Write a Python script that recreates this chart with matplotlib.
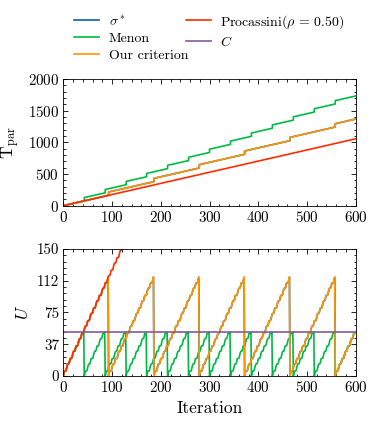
import numpy as np
import matplotlib.pyplot as plt
from matplotlib.ticker import AutoMinorLocator, FixedLocator, FixedFormatter

plt.rcParams['font.family'] = 'cmr10'
plt.rcParams['mathtext.fontset'] = 'cm'
plt.rcParams['axes.formatter.use_mathtext'] = True
plt.rcParams['font.size'] = 10.8
plt.rcParams['axes.labelsize'] = 12.5
plt.rcParams['axes.linewidth'] = 0.6
plt.rcParams['lines.linewidth'] = 1.2

colors = ['#0C5DA5', '#00B945', '#FF9500', '#FF2C00', '#845B97']
labels = [r'$\sigma^*$', 'Menon', 'Our criterion', r'Procassini($\rho\,=\,0.50$)', r'$C$']

n_iter = 600
C = 52  # load balancing cost / threshold

# iterations where load balancing is triggered
menon_resets = [43, 86, 129, 171, 214, 257, 300, 343, 386, 429, 472, 515, 558]
ours_resets = [93, 186, 279, 372, 465, 558]
sigma_resets = [93, 186, 279, 372, 465, 558]
procassini_resets = []

# imbalance added per iteration after a rebalance (one wiggle cycle, repeats)
u_step = [3.0, 2.4, 0.4, 0.0, 0.1, 1.4, 2.6, 2.5, 1.5, 0.5, 0.0, 0.5]

# parallel time, vertices (iteration, T_par)
procassini_it = [0, 600]
procassini_t = [0, 1056]
menon_it = [0, 43, 43, 86, 86, 129, 129, 171, 171, 214, 214, 257, 257, 300, 300,
            343, 343, 386, 386, 429, 429, 472, 472, 515, 515, 558, 558, 600]
menon_t = [0, 76, 128, 203, 255, 331, 383, 457, 509, 585, 637, 712, 764, 840, 892,
           968, 1020, 1095, 1147, 1223, 1275, 1351, 1403, 1478, 1530, 1606, 1658, 1732]
ours_it = [0, 93, 93, 186, 186, 279, 279, 372, 372, 465, 465, 558, 558, 600]
ours_t = [0, 164, 216, 379, 431, 595, 647, 811, 863, 1026, 1078, 1242, 1294, 1368]


def cumulative_imbalance(resets):
    u = np.zeros(n_iter + 1)
    last = 0
    for i in range(1, n_iter + 1):
        if i in resets:
            last = i
            u[i] = 0
        else:
            u[i] = u[i - 1] + u_step[(i - last - 1) % len(u_step)]
    return u


it = np.arange(n_iter + 1)

fig = plt.figure(figsize=(3.73, 4.22), dpi=100)
ax1 = fig.add_axes([0.1697, 0.5126, 0.784, 0.3002])
ax2 = fig.add_axes([0.1697, 0.109, 0.784, 0.301])

# top: parallel time
ax1.plot(ours_it, ours_t, color=colors[0], label=labels[0])
ax1.plot(menon_it, menon_t, color=colors[1], label=labels[1])
ax1.plot(ours_it, ours_t, color=colors[2], label=labels[2])
ax1.plot(procassini_it, procassini_t, color=colors[3], label=labels[3])
ax1.plot([], [], color=colors[4], label=labels[4])
ax1.set_xlim(0, 600)
ax1.set_ylim(0, 2000)
ax1.set_yticks([0, 500, 1000, 1500, 2000])
ax1.set_ylabel(r'$\mathrm{T}_{\mathrm{par}}$')

# bottom: cumulative imbalance
ax2.plot(it, cumulative_imbalance(sigma_resets), color=colors[0])
ax2.plot(it, cumulative_imbalance(menon_resets), color=colors[1])
ax2.plot(it, cumulative_imbalance(ours_resets), color=colors[2])
ax2.plot(it, cumulative_imbalance(procassini_resets), color=colors[3])
ax2.axhline(C, color=colors[4])
ax2.set_xlim(0, 600)
ax2.set_ylim(0, 150)
u_ticks = [0, 37.5, 75, 112.5, 150]
ax2.yaxis.set_major_locator(FixedLocator(u_ticks))
ax2.yaxis.set_major_formatter(FixedFormatter([str(int(t)) for t in u_ticks]))
ax2.set_ylabel(r'$U$')
ax2.set_xlabel('Iteration')

for ax in (ax1, ax2):
    ax.set_xticks([0, 100, 200, 300, 400, 500, 600])
    ax.xaxis.set_minor_locator(AutoMinorLocator(5))
    ax.yaxis.set_minor_locator(AutoMinorLocator(5))
    ax.tick_params(which='both', direction='in', top=True, right=True, width=0.6)
    ax.tick_params(which='major', length=3.5, pad=3)
    ax.tick_params(which='minor', length=1.8)

ax1.legend(loc='lower center', bbox_to_anchor=(0.5, 1.09), ncol=2, frameon=False,
           borderaxespad=0, columnspacing=-0.2, handlelength=1.8, handletextpad=0.7,
           labelspacing=0.3, fontsize=10)

fig.savefig('out.png', dpi=100)
